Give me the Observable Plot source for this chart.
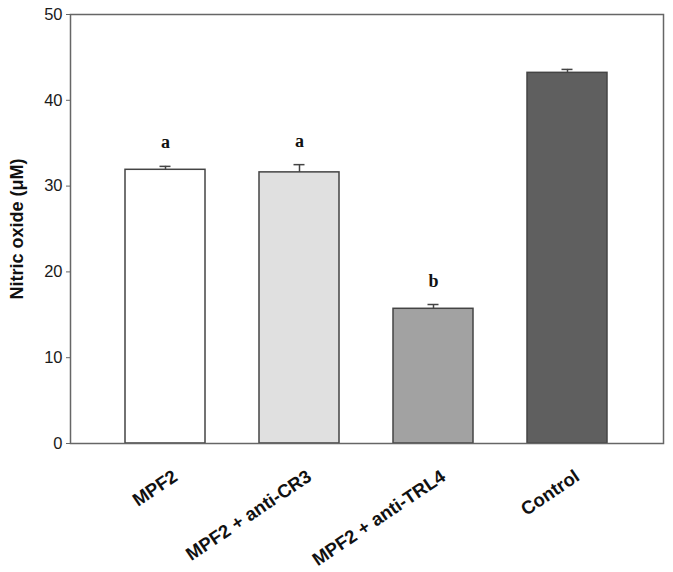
<!DOCTYPE html>
<html>
<head>
<meta charset="utf-8">
<script src="https://cdn.jsdelivr.net/npm/d3@7"></script>
<script src="https://cdn.jsdelivr.net/npm/@observablehq/plot@0.6"></script>
<style>
  html, body { margin: 0; padding: 0; background: #fff; }
  svg { display: block; }
</style>
</head>
<body>
<div id="chart"></div>
<script>
const categories = ["MPF2", "MPF2 + anti-CR3", "MPF2 + anti-TRL4", "Control"];
const values = [31.9, 31.6, 15.7, 43.2];
const errors = [0.4, 0.9, 0.5, 0.4];
const letters = ["a", "a", "b", ""];
const fills = ["#ffffff", "#e0e0e0", "#a2a2a2", "#5f5f5f"];
const yTicks = [0, 10, 20, 30, 40, 50];

const data = categories.map((c, i) => ({cat: c, value: values[i], err: errors[i], letter: letters[i], fill: fills[i]}));

const chart = Plot.plot({
  width: 673,
  height: 572,
  marginTop: 14,
  marginLeft: 70,
  marginRight: 10,
  marginBottom: 129,
  style: {fontFamily: "Arial, 'Liberation Sans', sans-serif", background: "#fff"},
  x: {domain: categories, paddingInner: 0.4, paddingOuter: 0.4, axis: null},
  y: {domain: [0, 50], axis: null},
  marks: [
    Plot.barY(data, {x: "cat", y: "value", fill: "fill", stroke: "#444", strokeWidth: 1.5}),
    Plot.ruleX(data, {x: "cat", y1: "value", y2: d => d.value + d.err, stroke: "#444", strokeWidth: 1.5}),
    Plot.tickY(data, {x: "cat", y: d => d.value + d.err, stroke: "#444", strokeWidth: 1.5, insetLeft: 34.5, insetRight: 34.5}),
    Plot.text(data, {x: "cat", y: d => d.value + d.err, text: "letter", dy: -18, lineAnchor: "bottom",
      fontFamily: "'Liberation Serif', 'Times New Roman', serif", fontWeight: "bold", fontSize: 18, fill: "#111"}),
    Plot.axisY({ticks: yTicks, tickSize: 4, tickPadding: 4, fontSize: 16.5, stroke: "#666", color: "#1a1a1a", label: null}),
    Plot.text(["Nitric oxide (μM)"], {frameAnchor: "left", textAnchor: "middle", dx: -53, rotate: -90, text: d => d,
      fontWeight: "bold", fontSize: 18, fill: "#111"}),
    Plot.text(data, {x: "cat", text: "cat", frameAnchor: "bottom", dx: 10, dy: 31, rotate: -34,
      textAnchor: "end", lineAnchor: "middle", fontWeight: "bold", fontSize: 18.5, fill: "#111"}),
    Plot.frame({stroke: "#666", strokeWidth: 1.5})
  ]
});
document.getElementById("chart").appendChild(chart);
</script>
</body>
</html>
